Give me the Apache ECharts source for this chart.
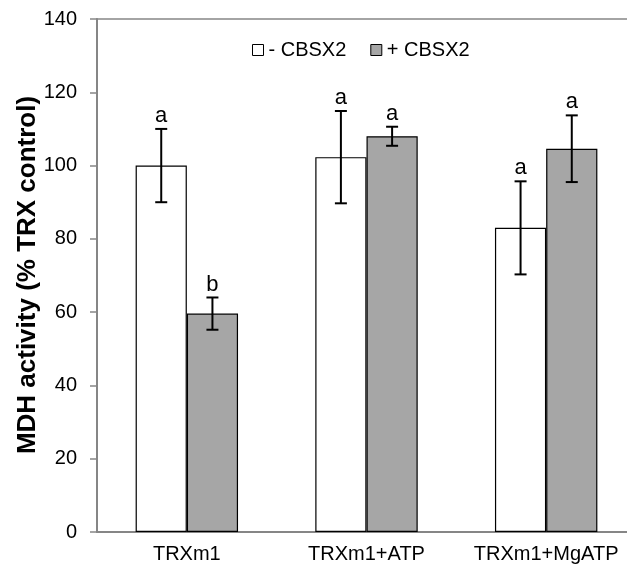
<!DOCTYPE html>
<html>
<head>
<meta charset="utf-8">
<script src="https://cdn.jsdelivr.net/npm/echarts@6/dist/echarts.min.js"></script>
<style>
  html, body { margin: 0; padding: 0; background: #fff; overflow: hidden; }
  /* the plot area runs a little past the right edge of the window */
  #chart { width: 640px; height: 570px; }
</style>
</head>
<body>
<div id="chart"></div>
<script>
// MDH activity relative to the TRX control, without and with CBSX2
const categories = ['TRXm1', 'TRXm1+ATP', 'TRXm1+MgATP'];
const seriesNames = ['- CBSX2', '+ CBSX2'];
const minusValues = [100, 102.3, 83];
const plusValues = [59.6, 108, 104.6];
const minusErrors = [10, 12.6, 12.7];
const plusErrors = [4.4, 2.6, 9.1];
const minusLetters = ['a', 'a', 'a'];
const plusLetters = ['b', 'a', 'a'];
const yTicks = [0, 20, 40, 60, 80, 100, 120, 140];
const yTitle = 'MDH activity (% TRX control)';

const FONT = "'Liberation Sans', Arial, sans-serif";
const AXIS_GREY = '#868686';
const BAR_GAP_RATIO = 0.43;

// error bar rows: [category index, mean, error, side(-1 left / +1 right), letter]
const errorRows = [];
categories.forEach((c, i) => {
  errorRows.push([i, minusValues[i], minusErrors[i], -1, minusLetters[i]]);
  errorRows.push([i, plusValues[i], plusErrors[i], 1, plusLetters[i]]);
});

function renderErrorBar(params, api) {
  const idx = api.value(0);
  const mean = api.value(1);
  const err = api.value(2);
  const side = api.value(3);
  const letter = errorRows[params.dataIndex][4];
  const band = api.size([1, 0])[0];
  const barW = band * (1 - BAR_GAP_RATIO) / 2;
  const x = api.coord([idx, mean])[0] + side * barW / 2;
  const yTop = api.coord([idx, mean + err])[1];
  const yBot = api.coord([idx, mean - err])[1];
  const cap = 6;
  const stroke = { stroke: '#000', lineWidth: 2 };
  return {
    type: 'group',
    children: [
      { type: 'line', shape: { x1: x, y1: yTop, x2: x, y2: yBot }, style: stroke },
      { type: 'line', shape: { x1: x - cap, y1: yTop, x2: x + cap, y2: yTop }, style: stroke },
      { type: 'line', shape: { x1: x - cap, y1: yBot, x2: x + cap, y2: yBot }, style: stroke },
      {
        type: 'text',
        style: {
          x: x, y: yTop - 2, text: letter,
          fill: '#000', font: '22px ' + FONT,
          align: 'center', verticalAlign: 'bottom'
        }
      }
    ]
  };
}

const chart = echarts.init(document.getElementById('chart'));
chart.setOption({
  animation: false,
  backgroundColor: '#fff',
  textStyle: { fontFamily: FONT },
  grid: { left: 97, top: 19, right: 4, bottom: 38, containLabel: false },
  legend: {
    data: seriesNames,
    left: 247, top: 35,
    icon: 'rect', itemWidth: 11, itemHeight: 11, itemGap: 24,
    itemStyle: { borderColor: '#000', borderWidth: 1 },
    textStyle: { fontSize: 20, color: '#000', fontFamily: FONT }
  },
  // rotated y-axis title, centred on the plot height
  graphic: [{
    type: 'text',
    x: 28, y: 275,
    rotation: Math.PI / 2,
    style: {
      text: yTitle, fill: '#000',
      font: 'bold 26px ' + FONT,
      align: 'center', verticalAlign: 'middle'
    }
  }],
  xAxis: [
    {
      type: 'category',
      data: categories,
      axisLine: { lineStyle: { color: AXIS_GREY, width: 2 } },
      axisTick: { show: false },
      axisLabel: { color: '#000', fontSize: 20, margin: 12, interval: 0, fontFamily: FONT }
    },
    {
      type: 'category',
      data: categories,
      position: 'top',
      axisLine: { lineStyle: { color: AXIS_GREY, width: 1.5 } },
      axisTick: { show: false },
      axisLabel: { show: false }
    }
  ],
  yAxis: {
    type: 'value',
    min: yTicks[0], max: yTicks[yTicks.length - 1], interval: 20,
    axisLine: { show: true, lineStyle: { color: AXIS_GREY, width: 2 } },
    axisTick: { show: true, length: 7, lineStyle: { color: AXIS_GREY, width: 1.5 } },
    axisLabel: { color: '#000', fontSize: 20, margin: 20, fontFamily: FONT },
    splitLine: { show: false }
  },
  series: [
    {
      name: seriesNames[0], type: 'bar', data: minusValues,
      barGap: '0%', barCategoryGap: (BAR_GAP_RATIO * 100) + '%',
      itemStyle: { color: '#ffffff', borderColor: '#000', borderWidth: 1.2 }
    },
    {
      name: seriesNames[1], type: 'bar', data: plusValues,
      barGap: '0%', barCategoryGap: (BAR_GAP_RATIO * 100) + '%',
      itemStyle: { color: '#a6a6a6', borderColor: '#000', borderWidth: 1.2 }
    },
    {
      type: 'custom', renderItem: renderErrorBar,
      data: errorRows.map(r => [r[0], r[1], r[2], r[3]]),
      z: 10, silent: true
    }
  ]
});
</script>
</body>
</html>
